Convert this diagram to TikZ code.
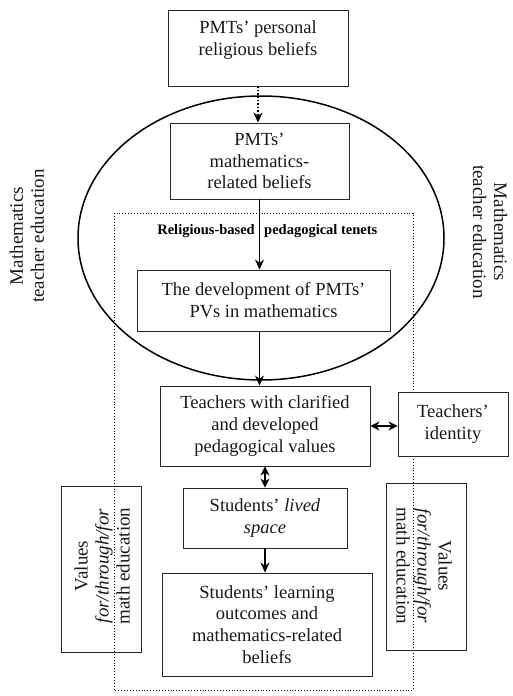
\documentclass[tikz,border=0pt]{standalone}
\usepackage{fontspec}
\setmainfont{Liberation Serif}
\usetikzlibrary{arrows.meta}
\begin{document}
\begin{tikzpicture}[x=1pt,y=-1pt,
  box/.style={draw=black!85, line width=0.9pt, rectangle, inner sep=0pt},
  txt/.style={align=center, font=\fontsize{18.5}{21.8}\selectfont, inner sep=0pt, text=black!90},
  side/.style={align=center, font=\fontsize{19}{21}\selectfont, inner sep=0pt, text=black!90},
  arr/.style={-{Stealth[length=10pt,width=9pt]}, line width=1.4pt},
  darr/.style={{Stealth[length=9pt,width=9pt]}-{Stealth[length=9pt,width=9pt]}, line width=1.4pt}]
\useasboundingbox (0,0) rectangle (512,696);
% dotted frame and ellipse
\draw[dotted, line width=0.9pt] (114,213) rectangle (413,690);
\draw[line width=1.5pt] (261,238) ellipse [x radius=183, y radius=142];
% boxes
\node[box, minimum width=180pt, minimum height=76pt] (b1) at (258,48) {};
\node[txt] (t1) at (258,40) {PMTs’ personal\\religious beliefs};
\node[box, txt, fill=white, minimum width=179pt, minimum height=76pt] (b2) at (259.5,161) {PMTs’\\mathematics-\\related beliefs};
\node[box, txt, fill=white, minimum width=253pt, minimum height=61pt] (b3) at (263.5,300.5) {The development of PMTs’\\PVs in mathematics};
\node[box, txt, fill=white, minimum width=210pt, minimum height=80pt] (b4) at (265,426) {Teachers with clarified\\and developed\\pedagogical values};
\node[box, txt, fill=white, minimum width=110pt, minimum height=64pt] (id) at (453,424) {Teachers’\\identity};
\node[box, txt, minimum width=164pt, minimum height=60pt] (b5) at (265,518) {Students’ \textit{lived}\\\textit{space}};
\node[box, txt, minimum width=210pt, minimum height=103pt] (b6) at (267,624.5) {Students’ learning\\outcomes and\\mathematics-related\\beliefs};
\node[box, minimum width=80pt, minimum height=166pt] (vl) at (101,569) {};
\node[side, rotate=90] (vlt) at (102,566) {Values\\\textit{for/through/for}\\math education};
\node[box, minimum width=80pt, minimum height=167pt] (vr) at (426,566.5) {};
\node[side, rotate=-90] (vrt) at (424,566) {Values\\\textit{for/through/for}\\math education};
% side labels
\node[side, rotate=90] (ml) at (27,236) {Mathematics\\teacher education};
\node[side, rotate=-90] (mr) at (490,232) {Mathematics\\teacher education};
% tenets label
\node[inner sep=0pt, anchor=east, font=\fontsize{14.5}{16}\selectfont\bfseries] (rl) at (255,231) {Religious-based};
\node[inner sep=0pt, anchor=west, font=\fontsize{14.5}{16}\selectfont\bfseries] (rr) at (264,231) {pedagogical tenets};
% connectors
\draw[arr, dotted] (b1.south) -- (b1.south |- b2.north);
\draw[arr] (b2.south) -- (b2.south |- b3.north);
\draw[arr] (b2.south |- b3.south) -- (b2.south |- b4.north);
\draw[darr] (b4.east) -- (b4.east -| id.west);
\draw[darr] (b5.north |- b4.south) -- (b5.north);
\draw[arr] (b5.south) -- (b5.south |- b6.north);
\end{tikzpicture}
\end{document}
